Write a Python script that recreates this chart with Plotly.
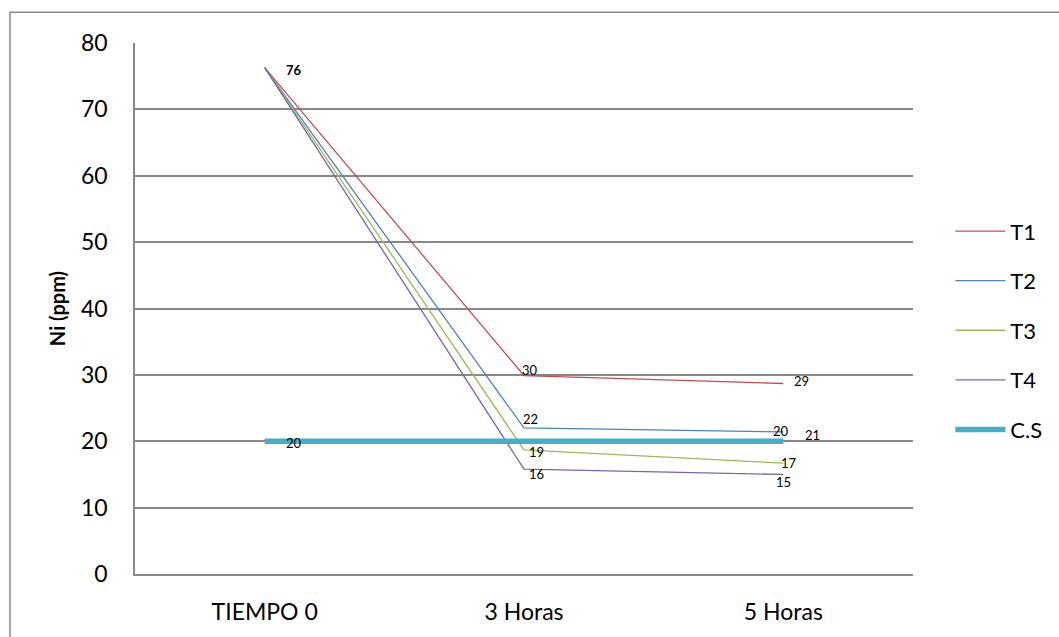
import plotly.graph_objects as go

# Sampling times and measured nickel concentration per treatment
categories = ["TIEMPO 0", "3 Horas", "5 Horas"]
t1 = [76.3, 29.9, 28.7]
t2 = [76.3, 22.0, 21.4]
t3 = [76.3, 18.7, 16.7]
t4 = [76.3, 15.8, 15.0]
cs = [20, 20, 20]
series_names = ["T1", "T2", "T3", "T4", "C.S"]
y_ticks = [0, 10, 20, 30, 40, 50, 60, 70, 80]

colors = ["#C0504D", "#4F81BD", "#9BBB59", "#8064A2", "#4BACC6"]
widths = [1.3, 1.3, 1.3, 1.3, 5.5]
FONT = "Lato"
GRID = "#888888"

fig = go.Figure()
for i, (name, vals) in enumerate(zip(series_names, [t1, t2, t3, t4, cs])):
    fig.add_trace(go.Scatter(
        x=categories, y=vals, mode="lines", name=name,
        line=dict(color=colors[i], width=widths[i]),
        legendgroup=name,
    ))

# Data labels: (series values, point index, x shift, y shift, bold)
labels = [
    (t1, 0, 29, -2, True),
    (t1, 1, 6, 6, False),
    (t1, 2, 18, 3, False),
    (t2, 1, 6, 9, False),
    (t2, 2, 29, -3, False),
    (t3, 1, 12, -2, False),
    (t3, 2, 6, 0, False),
    (t4, 1, 12, -5, False),
    (t4, 2, 0, -8, False),
    (cs, 0, 29, -2, False),
    (cs, 2, -2, 10, False),
]
for vals, idx, dx, dy, bold in labels:
    txt = f"{round(vals[idx])}"
    fig.add_annotation(
        x=categories[idx], y=vals[idx], text=f"<b>{txt}</b>" if bold else txt,
        showarrow=False, xshift=dx, yshift=dy,
        font=dict(family=FONT, size=13, color="#000000"),
    )

# Outer chart frame (top and left edges)
fig.add_shape(type="line", xref="paper", yref="paper",
              x0=-0.1607, x1=1.2, y0=1.058, y1=1.058,
              line=dict(color=GRID, width=1.5))
fig.add_shape(type="line", xref="paper", yref="paper",
              x0=-0.1607, x1=-0.1607, y0=1.058, y1=-0.12,
              line=dict(color=GRID, width=1.5))

fig.update_layout(
    width=1059, height=637,
    margin=dict(l=135, r=146, t=43, b=59),
    paper_bgcolor="white", plot_bgcolor="white",
    font=dict(family=FONT, size=23, color="#000000"),
    showlegend=True,
    legend=dict(
        x=1.048, xanchor="left", y=0.685, yanchor="top",
        traceorder="grouped", tracegroupgap=18,
        font=dict(family=FONT, size=22),
        itemwidth=50,
    ),
    xaxis=dict(
        type="category", range=[-0.5, 2.5],
        showgrid=False, showline=True, linecolor=GRID, linewidth=1.5,
        ticks="", ticklabelstandoff=17,
        tickfont=dict(family=FONT, size=23),
    ),
    yaxis=dict(
        range=[0, 80], tickvals=y_ticks,
        showgrid=True, gridcolor=GRID, gridwidth=1.5,
        showline=True, linecolor=GRID, linewidth=1.5,
        zeroline=False, ticks="", ticklabelstandoff=21,
        tickfont=dict(family=FONT, size=23),
        title=dict(text="<b>Ni (ppm)</b>", font=dict(family=FONT, size=20), standoff=10),
    ),
)

fig.write_html("out.html")
